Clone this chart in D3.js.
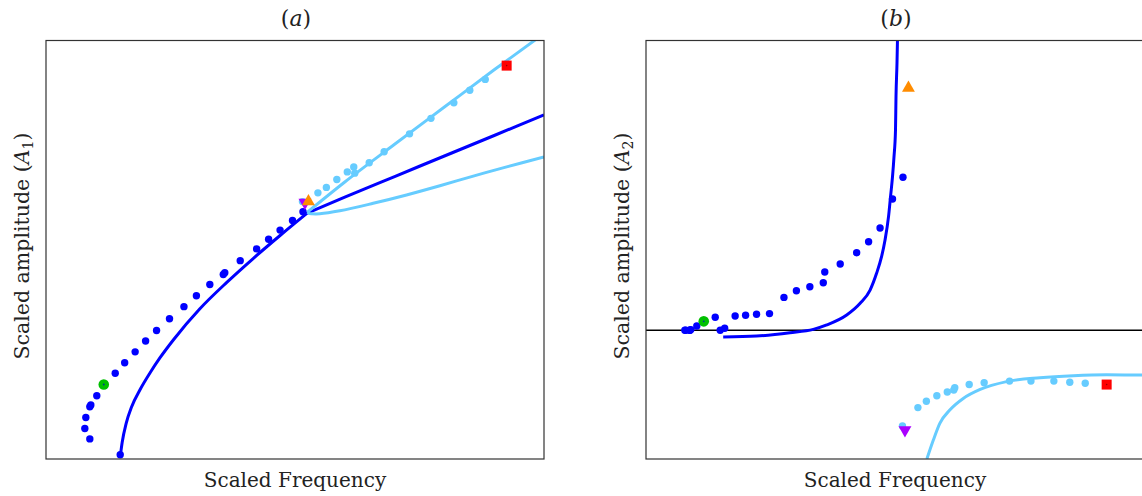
<!DOCTYPE html>
<html>
<head>
<meta charset="utf-8">
<script src="https://cdn.jsdelivr.net/npm/d3@7"></script>
<style>
body{margin:0;background:#fff;}
text{font-family:"DejaVu Serif",serif;fill:#222;}
</style>
</head>
<body>
<div class="chart"></div>
<script>
// branch 1 (dark blue dots): frequency, A1, A2
var freq1 = [0.088,0.078,0.080,0.088,0.090,0.102,0.139,0.149,0.158,0.179,0.200,0.222,0.248,0.277,0.302,0.329,0.356,0.359,0.390,0.423,0.447,0.470,0.495,0.516];
var amp1A1 = [0.048,0.073,0.099,0.125,0.129,0.151,0.205,0.010,0.230,0.256,0.282,0.307,0.335,0.364,0.390,0.417,0.441,0.445,0.474,0.502,0.525,0.547,0.570,0.591];
var amp1A2 = [0.000,0.000,0.000,0.000,0.005,0.033,0.101,0.000,0.015,0.111,0.116,0.124,0.129,0.255,0.307,0.338,0.369,0.452,0.514,0.602,0.687,0.794,1.019,1.188];
// branch 2 (light blue dots)
var freq2 = [0.515,0.546,0.563,0.584,0.605,0.618,0.620,0.649,0.679,0.730,0.773,0.819,0.851,0.882];
var amp2A1 = [0.615,0.636,0.649,0.668,0.686,0.698,0.683,0.708,0.734,0.777,0.814,0.851,0.881,0.907];
var amp2A2 = [-0.743,-0.601,-0.552,-0.509,-0.480,-0.464,-0.446,-0.422,-0.408,-0.395,-0.395,-0.395,-0.404,-0.412];
// model curves, panel (a)
var curveA1F = [0.149,0.153,0.161,0.172,0.189,0.209,0.229,0.256,0.309,0.363,0.416,0.470,0.525];
var curveA1V = [0.005,0.040,0.085,0.125,0.166,0.206,0.242,0.285,0.359,0.422,0.479,0.534,0.588];
var curveA1hiF = [0.525,0.600,0.700,0.800,0.900,1.000];
var curveA1hiV = [0.588,0.626,0.675,0.724,0.773,0.822];
var curveA2upF = [0.525,0.600,0.700,0.800,0.900,0.990];
var curveA2upV = [0.590,0.662,0.752,0.841,0.930,1.008];
var curveA2loF = [0.525,0.528,0.534,0.550,0.590,0.657,0.724,0.791,0.858,0.925,1.000];
var curveA2loV = [0.590,0.587,0.586,0.586,0.593,0.611,0.631,0.653,0.676,0.698,0.722];
// model curves, panel (b)
var curveB1F = [0.155,0.222,0.289,0.336,0.363,0.403,0.430,0.450,0.463,0.473,0.480,0.487,0.491,0.495,0.498,0.501,0.502,0.504,0.505];
var curveB1V = [-0.053,-0.045,-0.019,0.007,0.041,0.118,0.209,0.312,0.442,0.571,0.701,0.882,1.037,1.192,1.348,1.555,1.814,2.073,2.260];
var curveB2F = [0.564,0.577,0.590,0.610,0.637,0.671,0.724,0.791,0.858,0.925,0.996,1.000];
var curveB2V = [-1.000,-0.853,-0.723,-0.620,-0.530,-0.460,-0.399,-0.369,-0.353,-0.346,-0.348,-0.348];
// special points
var markerNames = ["purple","orange","green","red"];
var markerFreq = [0.520,0.527,0.116,0.925];
var markerA1 = [0.613,0.613,0.178,0.940];
var markerA2 = [-0.775,1.874,0.069,-0.422];

var W = 1142, H = 496;
var pw = 498, ph = 418.5, topY = 40.5;
var dark = "#0000ff", light = "#66ccff";

var svg = d3.select(".chart").append("svg")
	.attr("width",W)
	.attr("height",H);

var x = d3.scaleLinear().domain([0,1]).range([0,pw]);
var ya = d3.scaleLinear().domain([0,1]).range([ph,0]);
var yb = d3.scaleLinear().domain([-1,2.25]).range([ph,0]);

function zip(f,v){
	return f.map(function(d,i){ return [d,v[i]]; });
}

function panel(left,y,id,letter,sub,c1,c2,d1,d2,amps){
	var g = svg.append("g").attr("transform","translate("+left+","+topY+")");
	svg.append("defs").append("clipPath").attr("id",id)
		.append("rect").attr("width",pw).attr("height",ph);
	var plot = g.append("g").attr("clip-path","url(#"+id+")");
	var line = d3.line()
		.x(function(d){ return x(d[0]); })
		.y(function(d){ return y(d[1]); })
		.curve(d3.curveMonotoneX);
	var hook = d3.line()
		.x(function(d){ return x(d[0]); })
		.y(function(d){ return y(d[1]); })
		.curve(d3.curveCatmullRom);
	if(y === yb){
		plot.append("line")
			.attr("x1",0).attr("x2",pw)
			.attr("y1",y(0)).attr("y2",y(0))
			.attr("stroke","#000").attr("stroke-width",1.3);
	}
	c1.forEach(function(c){
		plot.append("path").attr("d",line(c))
			.attr("fill","none").attr("stroke",dark).attr("stroke-width",3);
	});
	c2.forEach(function(c,i){
		plot.append("path").attr("d",(i==1 ? hook : line)(c))
			.attr("fill","none").attr("stroke",light).attr("stroke-width",3);
	});
	plot.selectAll(".d1").data(d1).enter().append("circle")
		.attr("cx",function(d){ return x(d[0]); })
		.attr("cy",function(d){ return y(d[1]); })
		.attr("r",3.7).attr("fill",dark);
	plot.selectAll(".d2").data(d2).enter().append("circle")
		.attr("cx",function(d){ return x(d[0]); })
		.attr("cy",function(d){ return y(d[1]); })
		.attr("r",3.7).attr("fill",light);
	//markers
	for(var i=0; i<markerNames.length; i++){
		var mx = x(markerFreq[i]), my = y(amps[i]);
		if(markerNames[i] == "purple"){
			plot.append("path").attr("d",d3.symbol().type(d3.symbolTriangle).size(72)())
				.attr("transform","translate("+mx+","+my+") rotate(180)")
				.attr("fill","#aa00ff");
		}else if(markerNames[i] == "orange"){
			plot.append("path").attr("d",d3.symbol().type(d3.symbolTriangle).size(72)())
				.attr("transform","translate("+mx+","+(my-1)+")")
				.attr("fill","#ff8c00");
		}else if(markerNames[i] == "green"){
			plot.append("circle").attr("cx",mx).attr("cy",my).attr("r",5.3).attr("fill","#00c000");
			plot.append("circle").attr("cx",mx).attr("cy",my).attr("r",0.9).attr("fill","#003399");
		}else{
			plot.append("rect").attr("x",mx-5).attr("y",my-5).attr("width",10).attr("height",10).attr("fill","#ff0000");
			plot.append("circle").attr("cx",mx).attr("cy",my).attr("r",0.8).attr("fill","#990000");
		}
	}
	g.append("rect").attr("width",pw).attr("height",ph)
		.attr("fill","none").attr("stroke","#333").attr("stroke-width",1.2);
	//texts
	var t = svg.append("text").attr("x",left+250).attr("y",26)
		.attr("text-anchor","middle").style("font-size","22px");
	t.append("tspan").text("(");
	t.append("tspan").style("font-style","italic").text(letter);
	t.append("tspan").text(")");
	svg.append("text").attr("x",left+249).attr("y",487)
		.attr("text-anchor","middle").style("font-size","20px")
		.text("Scaled Frequency");
	var yl = svg.append("text")
		.attr("transform","translate("+(left-17)+",246) rotate(-90)")
		.attr("text-anchor","middle").style("font-size","20.5px");
	yl.append("tspan").text("Scaled amplitude (");
	yl.append("tspan").style("font-style","italic").text("A");
	yl.append("tspan").attr("dy",4).style("font-size","14px").text(sub);
	yl.append("tspan").attr("dy",-4).text(")");
}

panel(46,ya,"clipa","a","1",
	[zip(curveA1F,curveA1V),zip(curveA1hiF,curveA1hiV)],
	[zip(curveA2upF,curveA2upV),zip(curveA2loF,curveA2loV)],
	zip(freq1,amp1A1),zip(freq2,amp2A1),markerA1);
panel(646,yb,"clipb","b","2",
	[zip(curveB1F,curveB1V)],
	[zip(curveB2F,curveB2V)],
	zip(freq1,amp1A2),zip(freq2,amp2A2),markerA2);
</script>
</body>
</html>
